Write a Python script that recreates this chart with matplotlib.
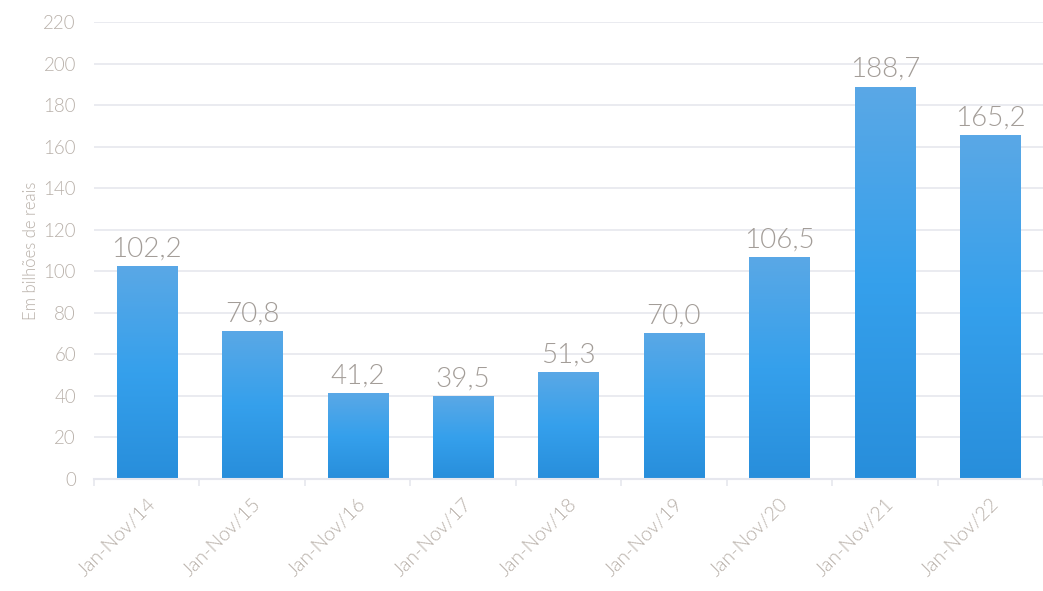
import numpy as np
import matplotlib.pyplot as plt
from matplotlib.colors import LinearSegmentedColormap

plt.rcParams['font.family'] = ['Lato', 'DejaVu Sans']

# Data
categories = ['Jan-Nov/14', 'Jan-Nov/15', 'Jan-Nov/16', 'Jan-Nov/17', 'Jan-Nov/18',
              'Jan-Nov/19', 'Jan-Nov/20', 'Jan-Nov/21', 'Jan-Nov/22']
values = [102.2, 70.8, 41.2, 39.5, 51.3, 70.0, 106.5, 188.7, 165.2]
labels = ['102,2', '70,8', '41,2', '39,5', '51,3', '70,0', '106,5', '188,7', '165,2']
yticks = list(range(0, 221, 20))

tick_color = '#b8b0a9'
label_color = '#a39d98'
grid_color = '#e6e7ee'
wt = 300

# bottom -> middle -> top
cmap = LinearSegmentedColormap.from_list('bar', ['#288edb', '#35a0ec', '#5aa8e6'])
grad = np.linspace(0, 1, 256).reshape(-1, 1)

fig = plt.figure(figsize=(10.43, 5.91), dpi=100)
ax = fig.add_axes([0.0901, 0.1895, 0.9099, 0.7733])

x = np.arange(len(categories))
width = 0.57
for xi, v, lab in zip(x, values, labels):
    ax.imshow(grad, cmap=cmap, origin='lower', aspect='auto',
              extent=(xi - width / 2, xi + width / 2, 0, v), zorder=2)
    ax.text(xi, v + 2.5, lab, ha='center', va='bottom', fontsize=20,
            color=label_color, fontweight=wt)

ax.set_xlim(-0.5, len(categories) - 0.5)
ax.set_ylim(0, 220)
ax.set_yticks(yticks)
ax.tick_params(axis='y', length=0, pad=13, labelsize=13.5, labelcolor=tick_color)
for t in ax.get_yticklabels():
    t.set_fontweight(wt)

ax.set_xticks(x)
ax.set_xticklabels(categories, rotation=45, ha='right', va='top',
                   rotation_mode='anchor', fontsize=14, color=tick_color,
                   fontweight=wt)
ax.tick_params(axis='x', length=0, pad=12)
# tick marks between categories
ax.set_xticks(np.arange(-0.5, len(categories), 1.0), minor=True)
ax.tick_params(axis='x', which='minor', length=5, color=grid_color, width=1.2)

ax.grid(axis='y', color=grid_color, linewidth=1.2, zorder=0)
ax.set_axisbelow(True)
for s in ['top', 'right', 'left']:
    ax.spines[s].set_visible(False)
ax.spines['bottom'].set_color(grid_color)
ax.spines['bottom'].set_linewidth(1.5)

ax.set_ylabel('Em bilhões de reais', fontsize=12, color=tick_color,
              fontweight=wt, labelpad=3)

fig.savefig('out.png', dpi=100)
